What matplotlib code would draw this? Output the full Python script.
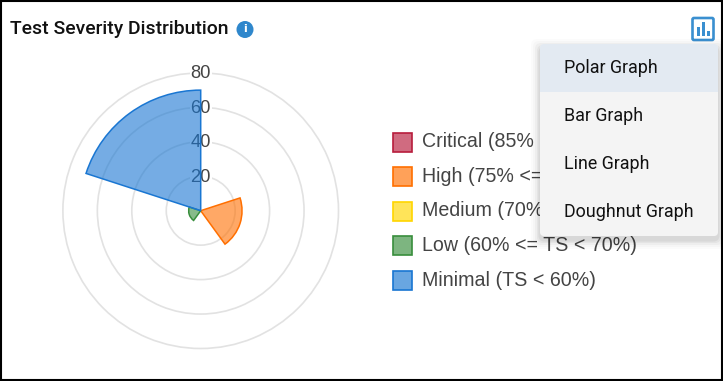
import numpy as np
import matplotlib
matplotlib.use('Agg')
import matplotlib.pyplot as plt
from matplotlib.patches import Rectangle, FancyBboxPatch, Circle

W, H = 723, 381

categories = ['Critical (85% <= TS)', 'High (75% <= TS < 85%)', 'Medium (70% <= TS < 75%)',
              'Low (60% <= TS < 70%)', 'Minimal (TS < 60%)']
values = [0, 24, 0, 7, 70]
ticks = [20, 40, 60, 80]
edge_colors = ['#b71c3c', '#ff6f00', '#ffd600', '#388e3c', '#1976d2']
menu_items = ['Polar Graph', 'Bar Graph', 'Line Graph', 'Doughnut Graph']

fig = plt.figure(figsize=(W / 100, H / 100), dpi=100, facecolor='white')

# polar chart, placed in pixels
cx, cy, rad = 200.7, 210.7, 137.8
ax = fig.add_axes([(cx - rad) / W, 1 - (cy + rad) / H, 2 * rad / W, 2 * rad / H], projection='polar')
ax.patch.set_alpha(0)
ax.set_theta_zero_location('N')
ax.set_theta_direction(-1)
ax.set_rlim(0, 80)
ax.set_yticks(ticks[:-1])
ax.set_yticklabels([])
ax.set_xticks([])
ax.grid(True, axis='y', color='#e2e2e2', lw=1.2)
ax.set_axisbelow(True)
ax.spines['polar'].set_color('#e2e2e2')
ax.spines['polar'].set_linewidth(1.2)

width = 2 * np.pi / len(values)
for i, v in enumerate(values):
    if v > 0:
        ax.bar(i * width, v, width=width, bottom=0, align='edge', zorder=5,
               facecolor=matplotlib.colors.to_rgba(edge_colors[i], 0.6),
               edgecolor=edge_colors[i], lw=1.1)
for t in ticks:
    ax.text(0, t - 0.5, str(t), ha='center', va='center', fontsize=13.2, family='Liberation Sans',
            color='#444444', zorder=3, clip_on=False,
            bbox=dict(facecolor='white', edgecolor='none', pad=0.6))

# everything else is drawn in pixel coordinates
ov = fig.add_axes([0, 0, 1, 1], zorder=10)
ov.set_xlim(0, W)
ov.set_ylim(H, 0)
ov.axis('off')
ov.patch.set_alpha(0)

ov.add_patch(Rectangle((1, 1), W - 2, H - 2, fill=False, ec='black', lw=1.5, zorder=20))

ov.text(10, 28.7, 'Test Severity Distribution', fontsize=13.95, family='Roboto', weight='medium',
        color='#111111', va='center', ha='left')
ov.add_patch(Circle((245, 29.5), 8.5, fc='#2f87cc', ec='none'))
ov.text(245, 29.5, 'i', color='white', fontsize=8, weight='bold', ha='center', va='center',
        family='DejaVu Sans')

# chart type button
ov.add_patch(FancyBboxPatch((692.5, 18), 21, 22, boxstyle='round,pad=0,rounding_size=1.5',
                            fc='none', ec='#3a8fd0', lw=1.9))
for x0, y0 in [(697, 27), (702, 22), (707, 31)]:
    ov.add_patch(Rectangle((x0, y0), 3, 36 - y0, fc='#3a8fd0', ec='none'))

# legend
for i, label in enumerate(categories):
    y = 132.5 + i * 34.6
    ov.add_patch(Rectangle((393, y), 19, 19, fc=matplotlib.colors.to_rgba(edge_colors[i], 0.65),
                           ec=edge_colors[i], lw=1.2))
    ov.text(422, y + 9.2, label, fontsize=14.1, family='Liberation Sans', color='#444444',
            va='center', ha='left')

# dropdown menu over the legend
mx, my, mw, mh = 540, 44, 178, 192
for grow, alpha in [(9, 0.015), (7, 0.02), (5, 0.03), (3, 0.04), (1.5, 0.05)]:
    ov.add_patch(FancyBboxPatch((mx - grow, my + 4 - grow), mw + 2 * grow, mh + 2 * grow,
                                boxstyle='round,pad=0,rounding_size=6', fc='black', ec='none',
                                alpha=alpha, zorder=12))
menu = FancyBboxPatch((mx, my), mw, mh, boxstyle='round,pad=0,rounding_size=4',
                      fc='#f4f4f4', ec='none', zorder=13)
ov.add_patch(menu)
hl = Rectangle((mx, my), mw, 48, fc='#e3eaf2', ec='none', zorder=14)
ov.add_patch(hl)
hl.set_clip_path(menu)
for i, item in enumerate(menu_items):
    ov.text(563.5, my + 24.2 + i * 48, item, fontsize=12.9, family='Roboto', color='#111111',
            va='center', ha='left', zorder=15)

fig.savefig('out.png', dpi=100)
